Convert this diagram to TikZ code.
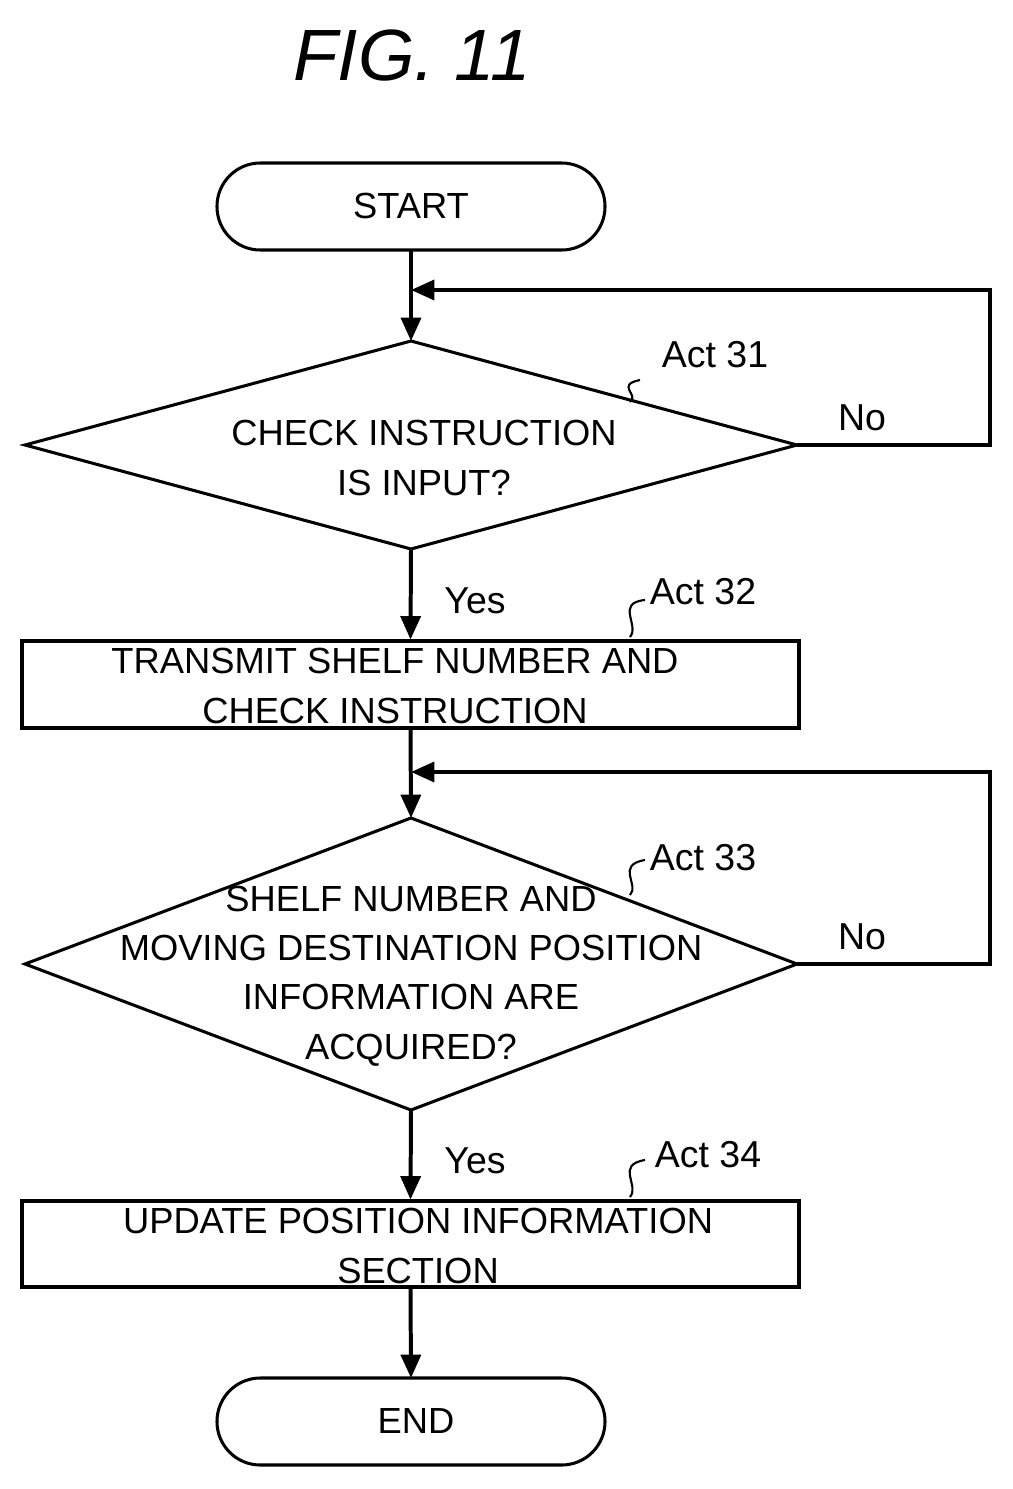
\documentclass[tikz,border=0pt]{standalone}
\usepackage{fontspec}
\setmainfont{Liberation Sans}
\usetikzlibrary{shapes.geometric,arrows.meta}
\begin{document}
\begin{tikzpicture}[x=0.03cm,y=-0.03cm,
  ln/.style={line width=3.4pt},
  arr/.style={ln,-{Triangle[length=20pt,width=17pt]}},
  txt/.style={font=\fontsize{31}{42}\selectfont,align=center,inner sep=0pt},
  lbl/.style={font=\fontsize{32}{40}\selectfont,inner sep=0pt},
  sq/.style={line width=1.8pt}]
\useasboundingbox (0,0) rectangle (1013,1489);
\node[font=\fontsize{62}{70}\selectfont\itshape] (title) at (412,55) {FIG. 11};
% start
\draw[line width=2.6pt,rounded corners=1.3cm] (217,163) rectangle (605,250);
\node[txt] (start) at (411,206) {START};
\coordinate (s) at (411,250);
% diamond 1
\draw[line width=2.6pt] (411,341) -- (797,445) -- (411,549) -- (25,445) -- cycle;
\coordinate (d1t) at (411,341); \coordinate (d1r) at (797,445); \coordinate (d1b) at (411,549);
\node[txt] (d1) at (424,458) {CHECK INSTRUCTION\\IS INPUT?};
\node[lbl] (a31) at (715,355) {Act 31};
\draw[sq] (640,380) .. controls (615,385) and (640,395) .. (630,402);
\node[lbl] (no1) at (862,418) {No};
\coordinate (j1) at (411,290);
\draw[arr] (s) -- (d1t);
\draw[arr] (d1r) -- (990,445) -- (990,290) -- (j1);
% rect 1
\node[draw,line width=2.6pt,minimum width=777*0.03cm,minimum height=87*0.03cm,inner sep=0pt] (r1) at (410.5,684.5) {};
\node[txt] (r1t) at (395,686) {TRANSMIT SHELF NUMBER AND\\CHECK INSTRUCTION};
\node[lbl] (y1) at (475,601) {Yes};
\node[lbl] (a32) at (703,592) {Act 32};
\draw[sq] (645,600) .. controls (615,603) and (640,625) .. (630,637);
\draw[arr] (d1b) -- (r1.north);
% diamond 2
\draw[line width=2.6pt] (411,818) -- (797,964) -- (411,1110) -- (25,964) -- cycle;
\coordinate (d2t) at (411,818); \coordinate (d2r) at (797,964); \coordinate (d2b) at (411,1110);
\node[txt] (d2) at (411,976) {SHELF NUMBER AND\\MOVING DESTINATION POSITION\\INFORMATION ARE\\ACQUIRED?};
\node[lbl] (a33) at (703,858) {Act 33};
\draw[sq] (645,860) .. controls (615,865) and (640,885) .. (630,895);
\node[lbl] (no2) at (862,937) {No};
\draw[arr] (r1.south) -- (d2t);
\draw[arr] (d2r) -- (990,964) -- (990,772) -- (411,772);
% rect 2
\node[draw,line width=2.6pt,minimum width=777*0.03cm,minimum height=86*0.03cm,inner sep=0pt] (r2) at (410.5,1244) {};
\node[txt] (r2t) at (418,1246) {UPDATE POSITION INFORMATION\\SECTION};
\node[lbl] (y2) at (475,1161) {Yes};
\node[lbl] (a34) at (708,1155) {Act 34};
\draw[sq] (645,1160) .. controls (615,1165) and (640,1185) .. (630,1197);
\draw[arr] (d2b) -- (r2.north);
% end
\draw[line width=2.6pt,rounded corners=1.3cm] (217,1378) rectangle (605,1465);
\node[txt] (end) at (416,1421) {END};
\coordinate (e) at (411,1378);
\draw[arr] (r2.south) -- (e);
\end{tikzpicture}
\end{document}
